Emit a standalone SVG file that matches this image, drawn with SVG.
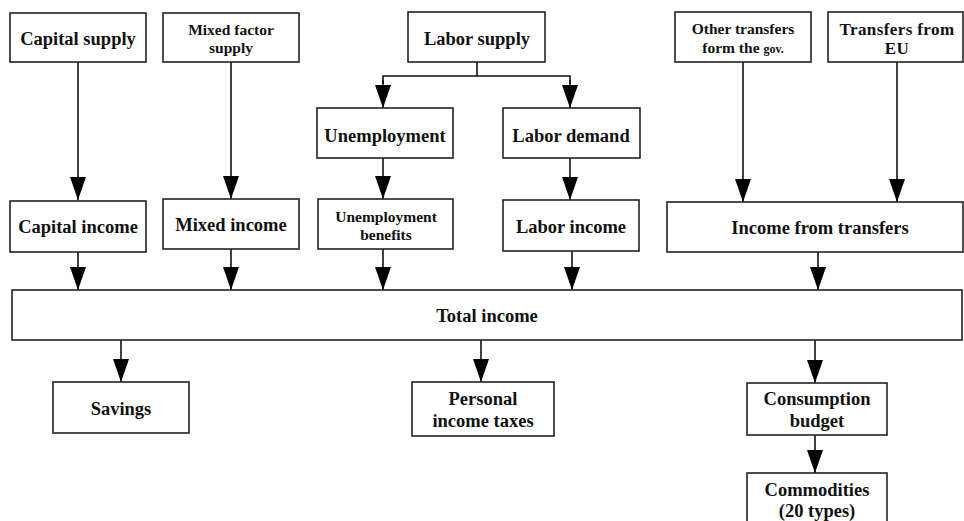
<svg xmlns="http://www.w3.org/2000/svg" width="964" height="521" viewBox="0 0 964 521">
  <style>
    .box { fill: #ffffff; stroke: #222222; stroke-width: 1.6; }
    .t { font-family: "Liberation Serif", "Times New Roman", serif; font-weight: bold; font-size: 18.5px; fill: #111111; text-anchor: middle; }
    .s { font-size: 15.5px; }
    .m { font-size: 17px; letter-spacing: 0.4px; }
    .xs { font-size: 12px; }
    .con { fill: none; stroke: #111111; stroke-width: 1.6; }
    .arr { marker-end: url(#head); }
  </style>
  <defs>
    <marker id="head" markerUnits="userSpaceOnUse" markerWidth="24" markerHeight="18" viewBox="0 -9 24 18" refX="23" refY="0" orient="auto">
      <path d="M0,-8 L23,0 L0,8 Z" fill="#000000"/>
    </marker>
  </defs>
  <rect width="964" height="521" fill="#ffffff"/>

  <!-- connectors -->
  <g id="connectors">
    <line class="con arr" x1="78" y1="62" x2="78" y2="200"/>
    <line class="con arr" x1="231" y1="62" x2="231" y2="199"/>
    <path class="con" d="M477,62 V76 H383 V84"/>
    <path class="con" d="M477,76 H570 V84"/>
    <line class="con arr" x1="383" y1="80" x2="383" y2="108"/>
    <line class="con arr" x1="570" y1="80" x2="570" y2="108"/>
    <line class="con arr" x1="383" y1="158" x2="383" y2="199"/>
    <line class="con arr" x1="570" y1="158" x2="570" y2="200"/>
    <line class="con arr" x1="743" y1="62" x2="743" y2="202"/>
    <line class="con arr" x1="897" y1="62" x2="897" y2="202"/>
    <line class="con arr" x1="78" y1="252" x2="78" y2="290"/>
    <line class="con arr" x1="231" y1="249" x2="231" y2="290"/>
    <line class="con arr" x1="383" y1="249" x2="383" y2="290"/>
    <line class="con arr" x1="572" y1="251" x2="572" y2="290"/>
    <line class="con arr" x1="818" y1="252" x2="818" y2="290"/>
    <line class="con arr" x1="121" y1="340" x2="121" y2="382"/>
    <line class="con arr" x1="481" y1="340" x2="481" y2="382"/>
    <line class="con arr" x1="815" y1="340" x2="815" y2="383"/>
    <line class="con arr" x1="815" y1="435" x2="815" y2="473"/>
  </g>

  <!-- top row: supplies and transfers -->
  <g id="capital-supply">
    <rect class="box" x="10" y="13" width="136" height="49"/>
    <text class="t" x="78" y="45">Capital supply</text>
  </g>
  <g id="mixed-factor-supply">
    <rect class="box" x="163" y="13" width="136" height="49"/>
    <text class="t s" x="231" y="35">Mixed factor</text>
    <text class="t s" x="231" y="53">supply</text>
  </g>
  <g id="labor-supply">
    <rect class="box" x="408" y="12" width="137" height="50"/>
    <text class="t" x="477" y="45">Labor supply</text>
  </g>
  <g id="other-transfers">
    <rect class="box" x="675" y="12" width="136" height="50"/>
    <text class="t s" x="743" y="34">Other transfers</text>
    <text class="t s" x="743" y="53">form the <tspan class="xs">gov.</tspan></text>
  </g>
  <g id="transfers-eu">
    <rect class="box" x="828" y="12" width="135" height="50"/>
    <text class="t m" x="897" y="35">Transfers from</text>
    <text class="t m" x="897" y="54">EU</text>
  </g>

  <!-- labor branch -->
  <g id="unemployment">
    <rect class="box" x="317" y="108" width="136" height="50"/>
    <text class="t" x="385" y="142">Unemployment</text>
  </g>
  <g id="labor-demand">
    <rect class="box" x="503" y="108" width="137" height="50"/>
    <text class="t" x="571" y="142">Labor demand</text>
  </g>

  <!-- income row -->
  <g id="capital-income">
    <rect class="box" x="10" y="201" width="136" height="51"/>
    <text class="t" x="78" y="233">Capital income</text>
  </g>
  <g id="mixed-income">
    <rect class="box" x="163" y="199" width="136" height="50"/>
    <text class="t" x="231" y="231">Mixed income</text>
  </g>
  <g id="unemployment-benefits">
    <rect class="box" x="318" y="199" width="135" height="50"/>
    <text class="t s" x="386" y="222">Unemployment</text>
    <text class="t s" x="386" y="240">benefits</text>
  </g>
  <g id="labor-income">
    <rect class="box" x="503" y="200" width="136" height="51"/>
    <text class="t" x="571" y="233">Labor income</text>
  </g>
  <g id="income-transfers">
    <rect class="box" x="667" y="202" width="296" height="50"/>
    <text class="t" x="820" y="234">Income from transfers</text>
  </g>

  <!-- total -->
  <g id="total-income">
    <rect class="box" x="12" y="290" width="950" height="50"/>
    <text class="t" x="487" y="322">Total income</text>
  </g>

  <!-- uses of income -->
  <g id="savings">
    <rect class="box" x="53" y="382" width="136" height="51"/>
    <text class="t" x="121" y="415">Savings</text>
  </g>
  <g id="personal-income-taxes">
    <rect class="box" x="412" y="382" width="142" height="54"/>
    <text class="t" x="483" y="405">Personal</text>
    <text class="t" x="483" y="427">income taxes</text>
  </g>
  <g id="consumption-budget">
    <rect class="box" x="747" y="383" width="140" height="52"/>
    <text class="t" x="817" y="405">Consumption</text>
    <text class="t" x="817" y="427">budget</text>
  </g>
  <g id="commodities">
    <rect class="box" x="747" y="473" width="140" height="60"/>
    <text class="t" x="817" y="496">Commodities</text>
    <text class="t" x="817" y="517">(20 types)</text>
  </g>
</svg>
